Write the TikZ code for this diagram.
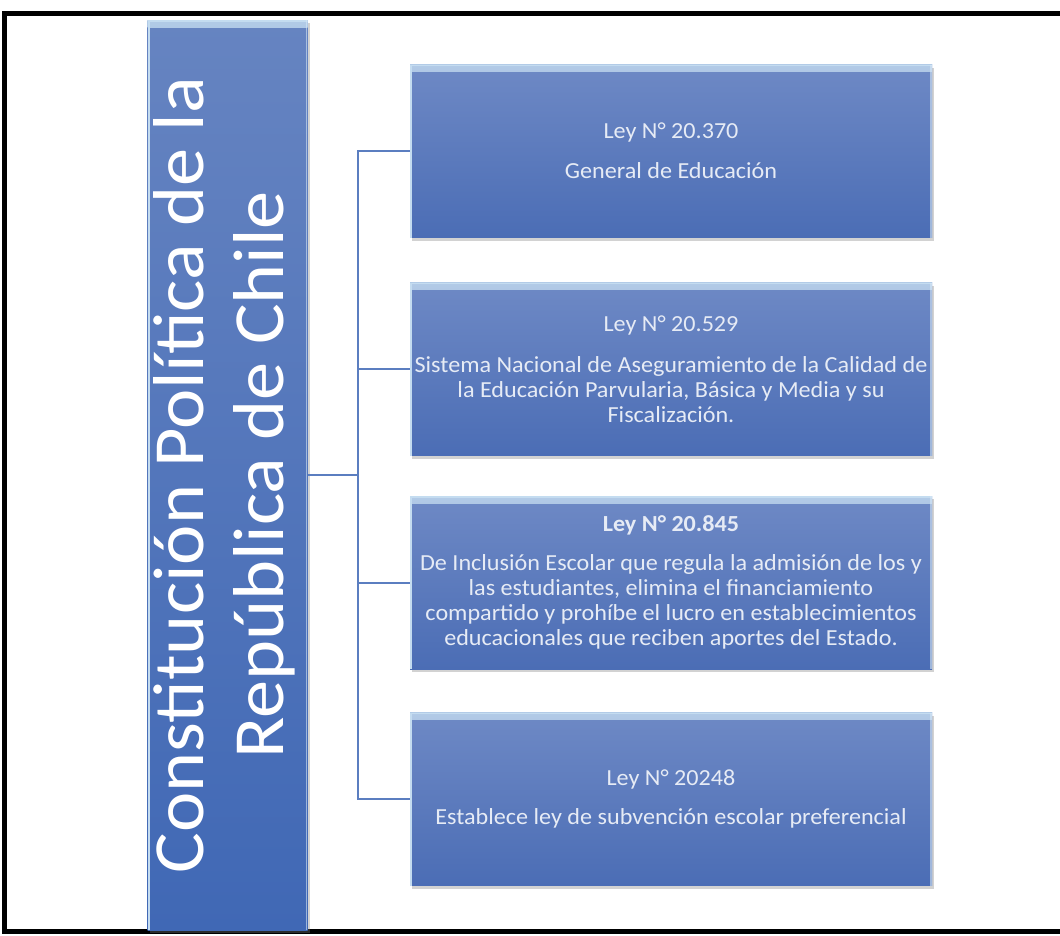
\documentclass[tikz,border=0pt]{standalone}
\usepackage{fontspec}
\setmainfont{Carlito}
\newfontfamily\lawfont[FakeStretch=1.05]{Carlito}
\newfontfamily\constfont[FakeStretch=1.06]{Carlito}
\usetikzlibrary{shadows,calc}

\definecolor{boxtop}{HTML}{6E89C5}
\definecolor{boxbot}{HTML}{4B6DB5}
\definecolor{talltop}{HTML}{6684C1}
\definecolor{tallbot}{HTML}{4068B5}
\definecolor{bevel}{HTML}{C4DCF0}
\definecolor{linkblue}{HTML}{5B7EC0}
\definecolor{boxtext}{HTML}{E6EBF5}

\tikzset{
  bevelled/.style={
    rectangle, inner sep=0pt, align=center,
    drop shadow={opacity=0.35, shadow xshift=2pt, shadow yshift=-3pt},
    path picture={
      \shade[top color=bevel, bottom color=#1, opacity=0.8]
        (path picture bounding box.north west) rectangle
        ([yshift=-7pt]path picture bounding box.north east);
      \draw[bevel, line width=1.5pt]
        ([yshift=-0.75pt]path picture bounding box.north west) --
        ([yshift=-0.75pt]path picture bounding box.north east);
      \draw[bevel, line width=2pt]
        ([xshift=1pt]path picture bounding box.north west) --
        ([xshift=1pt]path picture bounding box.south west);
      \draw[bevel!70!white, opacity=0.6, line width=1.5pt]
        ([xshift=-1pt]path picture bounding box.north east) --
        ([xshift=-1pt]path picture bounding box.south east);
    }
  },
  lawbox/.style={
    bevelled=boxtop, top color=boxtop, bottom color=boxbot,
    minimum width=522pt, minimum height=173pt,
    text=boxtext, font=\lawfont\fontsize{23}{25}\selectfont
  },
  constbox/.style={
    bevelled=talltop, top color=talltop, bottom color=tallbot,
    minimum width=159pt, minimum height=910pt,
    text=white, font=\constfont\fontsize{72}{80}\selectfont
  },
  link/.style={draw=linkblue, line width=2pt},
  frame/.style={draw=black, line width=5pt}
}

\begin{document}
\begin{tikzpicture}[x=1pt,y=-1pt]
  \useasboundingbox (0,0) rectangle (1060,935);
  \fill[white] (0,0) rectangle (1060,935);

  % outer frame, open on the right
  \draw[frame] (1062,13) -- (4,13) -- (4,931) -- (1062,931);

  % the constitution column
  \node[constbox] (tall) at (227.5,475)
    {\rotatebox{90}{\begin{tabular}{@{}c@{}}Constitución Política de la\\República de Chile\end{tabular}}};

  % the four laws
  \node[lawbox] (b1) at (671,151)
    {Ley N° 20.370\\[15pt]General de Educación};
  \node[lawbox] (b2) at (671,369)
    {Ley N° 20.529\\[16pt]Sistema Nacional de Aseguramiento de la Calidad de\\la Educación Parvularia, Básica y Media y su\\Fiscalización.};
  \node[lawbox] (b3) at (671,582.5)
    {\textbf{Ley N° 20.845}\\[14pt]De Inclusión Escolar que regula la admisión de los y\\las estudiantes, elimina el financiamiento\\compartido y prohíbe el lucro en establecimientos\\educacionales que reciben aportes del Estado.};
  \node[lawbox] (b4) at (671,799)
    {Ley N° 20248\\[14pt]Establece ley de subvención escolar preferencial};

  % connectors
  \coordinate (bus) at (358,475);
  \draw[link] (tall.east) -- (bus);
  \draw[link] (b1.west) -| (bus);
  \draw[link] (b2.west) -| (bus);
  \draw[link] (b3.west) -| (bus);
  \draw[link] (b4.west) -| (bus);
\end{tikzpicture}
\end{document}
